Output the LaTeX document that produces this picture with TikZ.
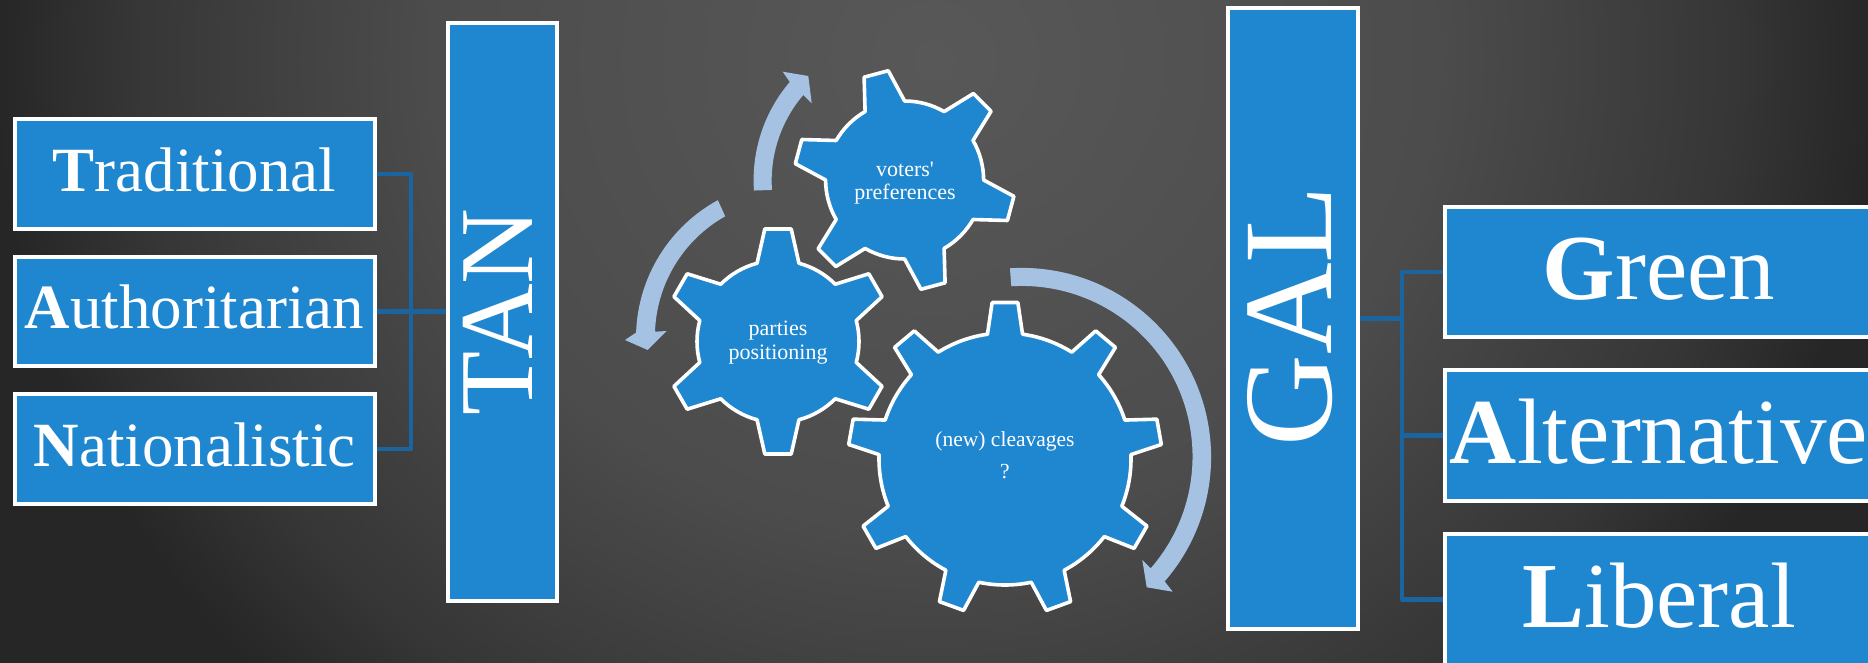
\documentclass[tikz,border=0pt]{standalone}
\usepackage{fontspec}
\setmainfont{Liberation Serif}
\newfontfamily\plainserif{Liberation Serif}
\definecolor{boxblue}{HTML}{1F86D0}
\definecolor{arrowblue}{HTML}{A6C2E3}
\definecolor{linkblue}{HTML}{1A659F}
\definecolor{bga}{HTML}{585858}
\definecolor{bgb}{HTML}{4C4C4C}
\definecolor{bgc}{HTML}{424242}
\definecolor{bgd}{HTML}{363636}
\definecolor{bge}{HTML}{262626}
\pgfdeclareradialshading{bggrad}{\pgfpoint{0bp}{0bp}}{color(0bp)=(bga); color(12.5bp)=(bgb); color(16bp)=(bgc); color(20bp)=(bgd); color(23.5bp)=(bge); color(50bp)=(bge)}
\newcommand{\basedrop}[2]{\raisebox{-#1pt}[0pt][0pt]{#2}}
\newcommand{\gearshape}[9]{%
  % cx cy name n phase rroot rtip hroot htip
  \begin{scope}[shift={(#1,#2)}]
    \draw[gearstyle] ({#5-#8}:#6)
      \foreach \i in {1,...,#4} {
        -- ({#5+(\i-1)*360/#4-#8}:#6)
        -- ({#5+(\i-1)*360/#4-#9}:#7)
        -- ({#5+(\i-1)*360/#4+#9}:#7)
        -- ({#5+(\i-1)*360/#4+#8}:#6)
        arc[start angle={#5+(\i-1)*360/#4+#8}, delta angle={360/#4-2*#8}, radius=#6]
      } -- cycle;
  \end{scope}}
\tikzset{
  x=1pt,y=-1pt,
  boxstyle/.style={draw=white,line width=3.8pt,fill=boxblue,text=white,inner sep=0pt,anchor=center},
  gearstyle/.style={draw=white,line width=3.6pt,fill=boxblue,line join=round},
  linkstyle/.style={draw=linkblue,line width=4.2pt},
  arrowstyle/.style={fill=arrowblue,draw=none},
  gearlabel/.style={text=white,align=center,inner sep=0pt},
  small/.style={font=\fontsize{63}{63}\selectfont},
  big/.style={font=\fontsize{93}{93}\selectfont}
}
\begin{document}
\begin{tikzpicture}
\useasboundingbox (0,0) rectangle (1868,663);
\begin{scope}
  \clip (0,0) rectangle (1868,663);
  \shade[shading=bggrad] (-66,-880) rectangle (1934,1000);

  % arrows
  \fill[arrowstyle] (904.6,180) ++(-184:151) arc[start angle=-184,end angle=-139.5,radius=151]
    -- (782.7,71.7) -- (808.3,76) -- (811.7,103.3)
    -- (803.3,95) arc[start angle=-139.5,end angle=-184,radius=132] -- cycle;
  \fill[arrowstyle] (793,338) ++(-118.6:157) arc[start angle=-118.6,end angle=-178,radius=157]
    -- (625,340) -- (647.7,350) -- (666.7,331)
    -- (655,331.7) arc[start angle=-178,end angle=-119.4,radius=138] -- cycle;
  \fill[arrowstyle] (1021.8,457.2) ++(-93.6:189.3) arc[start angle=-93.6,end angle=41,radius=189.3]
    -- (1172.7,591.7) -- (1146.7,587.3) -- (1142.3,560)
    -- (1150.7,568.3) arc[start angle=41,end angle=-93.6,radius=170.5] -- cycle;

  % boxes
  \node[boxstyle,small,minimum width=360pt,minimum height=110pt] (trad) at (194.6,174)
    {\basedrop{17.7}{\textbf{T}raditional}};
  \node[boxstyle,small,minimum width=360pt,minimum height=109pt] (auth) at (194.6,311.5)
    {\basedrop{17}{\textbf{A}uthoritarian}};
  \node[boxstyle,small,minimum width=360pt,minimum height=110pt] (nat) at (194.6,449)
    {\basedrop{17.5}{\textbf{N}ationalistic}};
  \node[boxstyle,rotate=90,minimum width=578pt,minimum height=109pt,font=\fontsize{105}{105}\selectfont] (tan) at (502.5,312)
    {\basedrop{30}{TAN}};
  \node[boxstyle,rotate=90,minimum width=621pt,minimum height=130.5pt,font=\fontsize{127}{127}\selectfont] (gal) at (1293,318.5)
    {\basedrop{38.5}{\hspace*{5pt}GAL}};
  \node[boxstyle,big,minimum width=428pt,minimum height=130pt] (green) at (1659,272)
    {\basedrop{28}{\textbf{G}reen}};
  \node[boxstyle,big,minimum width=428pt,minimum height=131pt] (alt) at (1659,435.5)
    {\basedrop{27.5}{\textbf{A}lternative}};
  \node[boxstyle,big,minimum width=428pt,minimum height=131pt] (lib) at (1659,599.5)
    {\basedrop{27.5}{\textbf{L}iberal}};

  % connectors
  \coordinate (tanjoin) at (411,311.5);
  \coordinate (galjoin) at (1402,318.5);
  \draw[linkstyle,line join=round] (trad.east) -- (trad.east -| tanjoin) -- (nat.east -| tanjoin) -- (nat.east);
  \draw[linkstyle] (auth.east) -- (tan.north |- auth.east);
  \draw[linkstyle,line join=round] (green.west) -- (green.west -| galjoin) -- (lib.west -| galjoin) -- (lib.west);
  \draw[linkstyle] (alt.west) -- (alt.west -| galjoin);
  \draw[linkstyle] (gal.south) -- (gal.south -| galjoin);

  % gears
  \gearshape{778}{341.5}{parties}{6}{-90}{81}{113.3}{15}{6.7}
  \gearshape{904.6}{180}{voters}{6}{-105}{79}{110.5}{15}{6.5}
  \gearshape{1005}{459}{cleavages}{9}{-90}{126}{157}{8}{4.7}

  \node[gearlabel,font=\plainserif\fontsize{22}{23.5}\selectfont] (votersl) at (905,183) {voters'\\preferences};
  \node[gearlabel,font=\fontsize{22}{24}\selectfont] (partiesl) at (778,343) {parties\\positioning};
  \node[gearlabel,font=\fontsize{21.5}{32}\selectfont] (cleavl) at (1005,455.5) {(new) cleavages\\?};
\end{scope}
\end{tikzpicture}
\end{document}
